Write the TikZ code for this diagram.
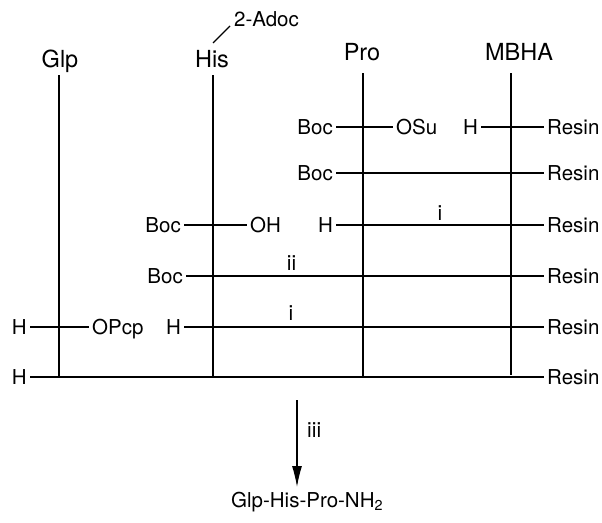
\documentclass[tikz,border=0pt]{standalone}
\usepackage{fontspec}
\setmainfont{TeX Gyre Heros}
\usetikzlibrary{arrows.meta}
\tikzset{
  lab/.style={font=\fontsize{20.5}{22}\selectfont, inner xsep=3pt, inner ysep=0pt, text height=14.7pt, text depth=0pt},
  head/.style={font=\fontsize{23.5}{26}\selectfont, inner sep=0pt},
  cond/.style={font=\fontsize{21}{23}\selectfont, inner sep=0pt},
  bond/.style={line width=1.1pt},
}
\begin{document}
\begin{tikzpicture}[x=1pt,y=-1pt]
\useasboundingbox (0,0) rectangle (602,522);
% headers
\node[head,anchor=base] (glp) at (60,67) {Glp};
\node[head,anchor=base] (his) at (212,67) {His};
\node[head,anchor=base] (pro) at (362,60) {Pro};
\node[head,anchor=base] (mbha) at (519,60) {MBHA};
\node[lab,anchor=base west,inner xsep=0pt] (adoc) at (234,27) {2-Adoc};
\coordinate (s1) at (213,43);
\coordinate (s2) at (230,26);
\draw[bond] (s1) -- (s2);
% vertical lines
\coordinate (gT) at (59,75);  \coordinate (gB) at (59,377);
\coordinate (hT) at (213,75); \coordinate (hB) at (213,377);
\coordinate (pT) at (363,73); \coordinate (pB) at (363,377);
\coordinate (mT) at (511,73); \coordinate (mB) at (511,375);
\draw[bond] (gT) -- (gB);
\draw[bond] (hT) -- (hB);
\draw[bond] (pT) -- (pB);
\draw[bond] (mT) -- (mB);
% row 1
\node[lab,anchor=east] (boc1) at (336,127) {Boc};
\node[lab,anchor=west] (osu) at (393,127) {OSu};
\node[lab,anchor=east] (h1) at (481,127) {H};
\node[lab,anchor=west] (r1) at (544,127) {Resin};
\draw[bond] (boc1.east) -- (osu.west);
\draw[bond] (h1.east) -- (r1.west);
% row 2
\node[lab,anchor=east] (boc2) at (336,173) {Boc};
\node[lab,anchor=west] (r2) at (544,173) {Resin};
\draw[bond] (boc2.east) -- (r2.west);
% row 3
\node[lab,anchor=east] (boc3) at (184,225) {Boc};
\node[lab,anchor=west] (oh) at (247,225) {OH};
\node[lab,anchor=east] (h3) at (336,225) {H};
\node[lab,anchor=west] (r3) at (544,225) {Resin};
\draw[bond] (boc3.east) -- (oh.west);
\draw[bond] (h3.east) -- (r3.west);
\node[cond,anchor=base] (c3) at (440,220) {i};
% row 4
\node[lab,anchor=east] (boc4) at (186,276) {Boc};
\node[lab,anchor=west] (r4) at (544,276) {Resin};
\draw[bond] (boc4.east) -- (r4.west);
\node[cond,anchor=base] (c4) at (291.5,270) {ii};
% row 5
\node[lab,anchor=east] (h5a) at (30,327) {H};
\node[lab,anchor=west] (opcp) at (89,327) {OPcp};
\node[lab,anchor=east] (h5b) at (184,327) {H};
\node[lab,anchor=west] (r5) at (544,327) {Resin};
\draw[bond] (h5a.east) -- (opcp.west);
\draw[bond] (h5b.east) -- (r5.west);
\node[cond,anchor=base] (c5) at (291,320) {i};
% row 6
\node[lab,anchor=east] (h6) at (30,377) {H};
\node[lab,anchor=west] (r6) at (544,377) {Resin};
\draw[bond] (h6.east) -- (r6.west);
% cleavage
\coordinate (aT) at (297,400);
\coordinate (aB) at (297,487);
\draw[bond,-{Latex[length=21pt,width=10pt]}] (aT) -- (aB);
\node[cond,anchor=base west] (c6) at (307,437) {iii};
\node[lab,anchor=base west,inner xsep=0pt] (prod) at (231,507) {Glp-His-Pro-NH\textsubscript{2}};
\end{tikzpicture}
\end{document}
